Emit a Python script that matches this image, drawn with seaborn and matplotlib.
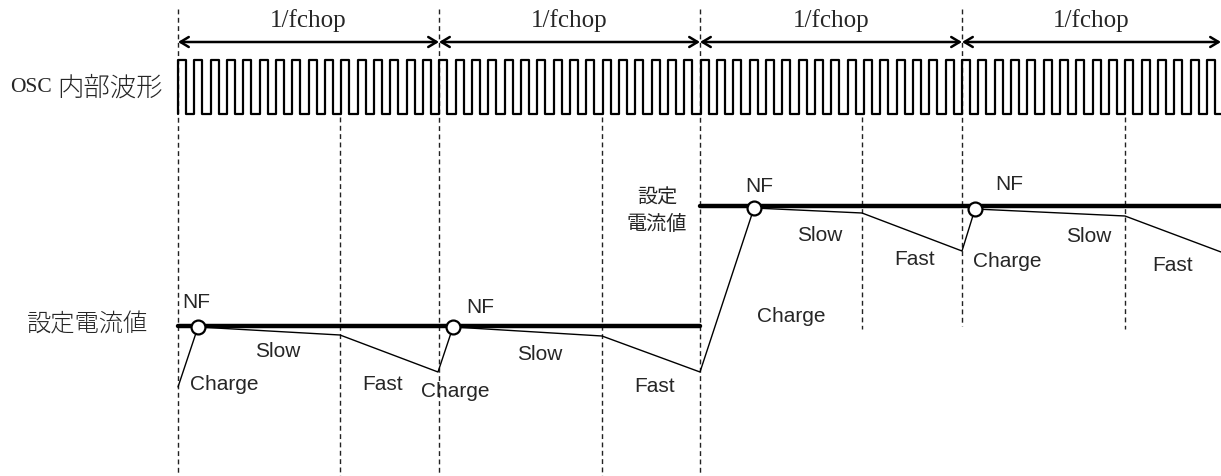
import numpy as np
import matplotlib
matplotlib.use('Agg')
import matplotlib.pyplot as plt
import seaborn as sns

# chop period boundaries and slow->fast switch points (pixel-like x units)
chop_x = [178, 439, 700, 962]
end_x = 1221
split_x = [340, 602, 862, 1125]
chop_label = '1/fchop'

# OSC internal clock
osc_cycles_per_chop = 16
osc_high = 61
osc_low = 115

# set current levels (thick lines)
level_start = [178, 700]
level_stop = [700, 1221]
level_y = [327, 207]

# coil current trace
current_x = [178, 198, 340, 438, 453, 602, 700, 754, 862, 962, 975, 1125, 1221]
current_y = [388, 328, 336, 373, 328, 337, 373, 209, 214, 252, 210, 217, 253]

# NF detection points
nf_x = [198, 453, 754, 975]
nf_y = [328, 328, 209, 210]

# phase labels
phase_text = ['NF', 'Slow', 'Charge', 'Fast',
              'Charge', 'NF', 'Slow', 'Fast',
              'NF', 'Slow', 'Charge', 'Fast',
              'NF', 'Charge', 'Slow', 'Fast']
phase_x = [196, 278, 224, 383,
           455, 480, 540, 655,
           759, 820, 791, 915,
           1009, 1007, 1089, 1173]
phase_y = [303, 352, 385, 385,
           392, 308, 355, 387,
           187, 236, 317, 260,
           185, 262, 237, 266]

sns.set_theme(style='white')
plt.rcParams['font.family'] = ['Liberation Sans', 'Noto Sans CJK JP', 'DejaVu Sans']

fig = plt.figure(figsize=(12.21, 4.77), dpi=100)
ax = fig.add_axes([0, 0, 1, 1])
ax.set_xlim(0, 1221)
ax.set_ylim(477, 0)
ax.axis('off')

dash = (0, (3.5, 2.5))
# dashed guides
for x in chop_x:
    bottom = 477 if x <= 700 else 327
    ax.vlines(x, 10, bottom, colors='#222222', linewidth=1, linestyles=dash)
for x in split_x:
    bottom = 477 if x < 700 else 330
    ax.vlines(x, 118, bottom, colors='#222222', linewidth=1, linestyles=dash)

# 1/fchop arrows
bounds = chop_x + [end_x]
for a, b in zip(bounds[:-1], bounds[1:]):
    ax.annotate('', xy=(b, 43), xytext=(a, 43),
                arrowprops=dict(arrowstyle='<->,head_length=0.5,head_width=0.3',
                                lw=1.8, color='black', shrinkA=0, shrinkB=0,
                                mutation_scale=12))
    ax.text((a + b) / 2, 21, chop_label, ha='center', va='center',
            fontsize=18, family=['Liberation Serif', 'DejaVu Serif'])

# OSC square wave
period = np.diff(chop_x).mean() / osc_cycles_per_chop
edges = np.arange(chop_x[0], end_x, period / 2)
wx, wy = [], []
lvl = osc_low
for i, e in enumerate(edges):
    new = osc_high if i % 2 == 0 else osc_low
    wx += [e, e]
    wy += [lvl, new]
    lvl = new
wx.append(end_x)
wy.append(lvl)
sns.lineplot(x=wx, y=wy, sort=False, estimator=None, color='black', lw=1.6, ax=ax)

# set current levels
for a, b, y in zip(level_start, level_stop, level_y):
    sns.lineplot(x=[a, b], y=[y, y], sort=False, estimator=None, color='black', lw=3.2, ax=ax)

# current trace
sns.lineplot(x=current_x, y=current_y, sort=False, estimator=None, color='black', lw=1.0, ax=ax)
sns.scatterplot(x=nf_x, y=nf_y, s=100, color='white', edgecolor='black', linewidth=1.6,
                zorder=5, ax=ax)

for t, x, y in zip(phase_text, phase_x, phase_y):
    ax.text(x, y, t, ha='center', va='center', fontsize=15)

# left labels
ax.text(10, 88, 'OSC', ha='left', va='center', fontsize=15.5,
        family=['Liberation Serif', 'DejaVu Serif'])
ax.text(57, 88, '内部波形', ha='left', va='center', fontsize=19,
        family=['Noto Sans CJK JP'], fontweight='light')
ax.text(27, 325, '設定電流値', ha='left', va='center', fontsize=17.5,
        family=['Noto Sans CJK JP'], fontweight='light')
ax.text(657, 211, '設定\n電流値', ha='center', va='center', fontsize=14.5,
        linespacing=1.35, family=['Noto Sans CJK JP'])

fig.savefig('out.png', dpi=100)
